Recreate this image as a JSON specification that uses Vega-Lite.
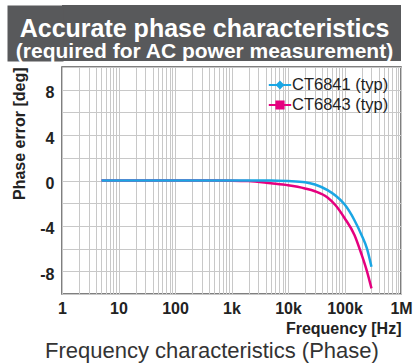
{
  "$schema": "https://vega.github.io/schema/vega-lite/v6.json",
  "padding": {"left": 11, "top": 5, "right": 3, "bottom": 2},
  "background": "white",
  "spacing": 4,
  "config": {"font": "Liberation Sans"},
  "title": {"text": "Frequency characteristics (Phase)", "orient": "bottom", "anchor": "middle", "font": "Liberation Sans", "fontSize": 22, "fontWeight": "normal", "color": "#333333", "offset": 4},
  "vconcat": [
    {
      "width": 339,
      "height": 56,
      "view": {"fill": "#58595b", "stroke": null},
      "data": {"values": [
        {"line": "Accurate phase characteristics", "row": 1},
        {"line": "(required for AC power measurement)", "row": 2}
      ]},
      "encoding": {
        "y": {"field": "row", "type": "ordinal", "title": null,
          "axis": {"labels": false, "ticks": false, "grid": false, "domain": true, "domainColor": "#58595b", "domainWidth": 56, "domainCap": "butt", "offset": 27}},
        "text": {"field": "line"}
      },
      "layer": [
        {
          "transform": [{"filter": "datum.row == 1"}],
          "mark": {"type": "text", "fontSize": 25, "fontWeight": "bold", "color": "white", "baseline": "alphabetic", "dy": 18, "dx": -27}
        },
        {
          "transform": [{"filter": "datum.row == 2"}],
          "mark": {"type": "text", "fontSize": 21, "fontWeight": "bold", "color": "white", "baseline": "alphabetic", "dy": 11, "dx": -27}
        }
      ]
    },
    {
      "width": 339,
      "height": 227,
      "view": {"stroke": "#555555", "strokeWidth": 1.5},
      "data": {"values": [
        {"model": "CT6843 (typ)", "freq": 5, "phase": 0},
        {"model": "CT6843 (typ)", "freq": 100, "phase": 0},
        {"model": "CT6843 (typ)", "freq": 1000, "phase": -0.02},
        {"model": "CT6843 (typ)", "freq": 2000, "phase": -0.05},
        {"model": "CT6843 (typ)", "freq": 5000, "phase": -0.25},
        {"model": "CT6843 (typ)", "freq": 10000, "phase": -0.42},
        {"model": "CT6843 (typ)", "freq": 20000, "phase": -0.7},
        {"model": "CT6843 (typ)", "freq": 30000, "phase": -0.95},
        {"model": "CT6843 (typ)", "freq": 50000, "phase": -1.5},
        {"model": "CT6843 (typ)", "freq": 70000, "phase": -2.2},
        {"model": "CT6843 (typ)", "freq": 100000, "phase": -3.3},
        {"model": "CT6843 (typ)", "freq": 150000, "phase": -4.8},
        {"model": "CT6843 (typ)", "freq": 200000, "phase": -6.5},
        {"model": "CT6843 (typ)", "freq": 250000, "phase": -8.0},
        {"model": "CT6843 (typ)", "freq": 300000, "phase": -9.5},
        {"model": "CT6841 (typ)", "freq": 5, "phase": 0},
        {"model": "CT6841 (typ)", "freq": 100, "phase": 0},
        {"model": "CT6841 (typ)", "freq": 1000, "phase": 0},
        {"model": "CT6841 (typ)", "freq": 5000, "phase": 0},
        {"model": "CT6841 (typ)", "freq": 10000, "phase": -0.05},
        {"model": "CT6841 (typ)", "freq": 20000, "phase": -0.15},
        {"model": "CT6841 (typ)", "freq": 30000, "phase": -0.35},
        {"model": "CT6841 (typ)", "freq": 50000, "phase": -0.85},
        {"model": "CT6841 (typ)", "freq": 70000, "phase": -1.35},
        {"model": "CT6841 (typ)", "freq": 100000, "phase": -2.1},
        {"model": "CT6841 (typ)", "freq": 150000, "phase": -3.5},
        {"model": "CT6841 (typ)", "freq": 200000, "phase": -4.8},
        {"model": "CT6841 (typ)", "freq": 250000, "phase": -6.0},
        {"model": "CT6841 (typ)", "freq": 300000, "phase": -7.6}
      ]},
      "mark": {"type": "line", "strokeWidth": 2.5, "interpolate": "monotone"},
      "encoding": {
        "x": {
          "field": "freq", "type": "quantitative",
          "scale": {"type": "log", "domain": [1, 1000000]},
          "axis": {
            "title": "Frequency [Hz]", "titleAnchor": "end", "titleFontSize": 16, "titleFontWeight": "bold", "titleColor": "#222222", "titlePadding": 4,
            "labelFontSize": 16, "labelFontWeight": "bold", "labelColor": "#222222", "labelFlush": false, "labelOverlap": false, "labelPadding": 6,
            "ticks": false, "domain": false, "gridColor": "#c8c8c8", "gridWidth": 1,
            "values": [1,2,3,4,5,6,7,8,9,10,20,30,40,50,60,70,80,90,100,200,300,400,500,600,700,800,900,1000,2000,3000,4000,5000,6000,7000,8000,9000,10000,20000,30000,40000,50000,60000,70000,80000,90000,100000,200000,300000,400000,500000,600000,700000,800000,900000,1000000],
            "labelExpr": "datum.value == 1 ? '1' : datum.value == 10 ? '10' : datum.value == 100 ? '100' : datum.value == 1000 ? '1k' : datum.value == 10000 ? '10k' : datum.value == 100000 ? '100k' : datum.value == 1000000 ? '1M' : ''"
          }
        },
        "y": {
          "field": "phase", "type": "quantitative",
          "scale": {"domain": [-10, 10], "nice": false},
          "axis": {
            "title": "Phase error [deg]", "titleAnchor": "end", "titleFontSize": 16, "titleFontWeight": "bold", "titleColor": "#222222", "titlePadding": 12,
            "labelFontSize": 16, "labelFontWeight": "bold", "labelColor": "#222222", "labelPadding": 8, "labelOffset": 3,
            "ticks": false, "domain": false, "gridColor": "#c8c8c8", "gridWidth": 1,
            "values": [-10,-8,-6,-4,-2,0,2,4,6,8,10],
            "labelExpr": "(datum.value % 4 == 0 && abs(datum.value) < 10) ? '' + datum.value : ''"
          }
        },
        "color": {
          "field": "model", "type": "nominal",
          "scale": {"domain": ["CT6841 (typ)", "CT6843 (typ)"], "range": ["#1aa6e4", "#e5007f"]},
          "legend": {
            "title": null, "orient": "none", "legendX": 209, "legendY": 71,
            "labelFontSize": 16.5, "labelColor": "#222222", "labelLimit": 200, "labelOffset": 3,
            "symbolSize": 256, "symbolStrokeWidth": 2, "rowPadding": 2,
            "encode": {
              "symbols": {
                "update": {
                  "shape": {"signal": "datum.value === 'CT6841 (typ)' ? 'M-1.4,0H1.4M0,-0.38L0.38,0L0,0.38L-0.38,0Z' : 'M-1.4,0H1.4M-0.45,-0.45H0.45V0.45H-0.45Z'"},
                  "fill": {"scale": "color", "field": "value"}
                }
              }
            }
          }
        }
      }
    }
  ]
}
